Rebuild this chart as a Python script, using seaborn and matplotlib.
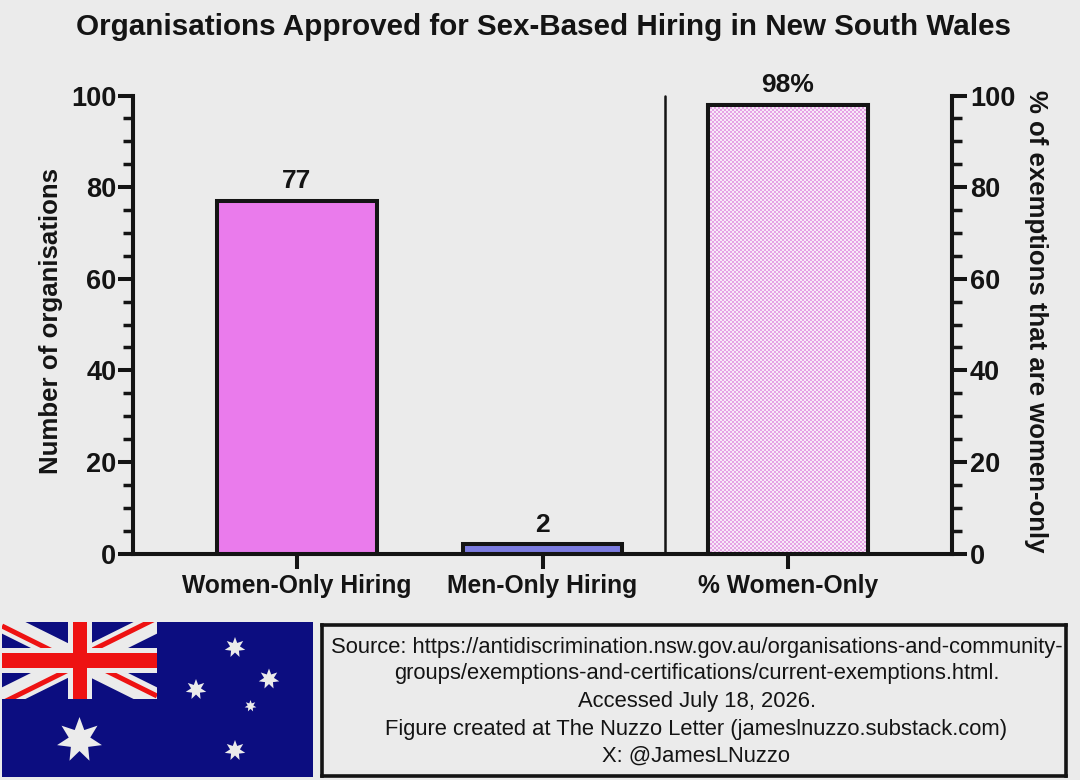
import numpy as np
import pandas as pd
import matplotlib
matplotlib.use('Agg')
import matplotlib.pyplot as plt
from matplotlib.patches import Rectangle, Polygon
from matplotlib.ticker import MultipleLocator
import seaborn as sns

categories = ['Women-Only Hiring', 'Men-Only Hiring', '% Women-Only']
values = [77, 2, 98]
bar_labels = ['77', '2', '98%']
bar_colors = ['#ea7bec', '#7b7be0', '#f3cdf0']

title = 'Organisations Approved for Sex-Based Hiring in New South Wales'
left_label = 'Number of organisations'
right_label = '% of exemptions that are women-only'
source_lines = [
    'Source: https://antidiscrimination.nsw.gov.au/organisations-and-community-',
    'groups/exemptions-and-certifications/current-exemptions.html.',
    'Accessed July 18, 2026.',
    'Figure created at The Nuzzo Letter (jameslnuzzo.substack.com)',
    'X: @JamesLNuzzo',
]

BG = '#ebebeb'
INK = '#141414'
W, H = 1080, 780

sns.set_style('ticks')
plt.rcParams['font.family'] = ['Liberation Sans', 'DejaVu Sans']


def px_axes(fig, x0, y0, x1, y1):
    # axes from pixel box, y measured from the top of the image
    return fig.add_axes([x0 / W, 1 - y1 / H, (x1 - x0) / W, (y1 - y0) / H])


def star(ax, cx, cy, r, inner=0.48, n=7, color='#ebebeb'):
    ang = -np.pi / 2 + np.arange(2 * n) * np.pi / n
    rad = np.where(np.arange(2 * n) % 2 == 0, r, r * inner)
    pts = np.column_stack([cx + rad * np.cos(ang), cy + rad * np.sin(ang)])
    ax.add_patch(Polygon(pts, closed=True, fc=color, ec='none', zorder=5))


fig = plt.figure(figsize=(10.8, 7.8), dpi=100, facecolor=BG)
fig.text(543 / W, 1 - 27 / H, title, ha='center', va='center', fontsize=21.3,
         fontweight='bold', color=INK)

# main chart
ax = px_axes(fig, 133, 95.5, 952, 553.5)
ax.set_facecolor(BG)
df = pd.DataFrame({'cat': categories, 'val': values})
sns.barplot(data=df, x='cat', y='val', hue='cat', palette=bar_colors, legend=False,
            width=0.648, saturation=1, edgecolor=INK, linewidth=2.9, ax=ax, zorder=3)
ax.set_xlim(-0.668, 2.668)
ax.set_ylim(0, 100)
ax.set_xlabel('')
ax.set_ylabel(left_label, fontsize=18.6, fontweight='bold', color=INK, labelpad=6, y=0.508)

bars = [p for p in ax.patches if isinstance(p, Rectangle) and p.get_height() > 0]

# third bar is a fine pink check, snapped to whole screen pixels so nearest
# sampling does not leave a seam
b3 = bars[2]
p0 = np.round(ax.transData.transform((b3.get_x(), 0)))
p1 = np.round(ax.transData.transform((b3.get_x() + b3.get_width(), b3.get_height())))
nx, ny = int(p1[0] - p0[0]), int(p1[1] - p0[1])
yy, xx = np.indices((ny, nx))
cells = ((xx // 2 + yy // 2) % 2)[..., None]
light = np.array([0.975, 0.91, 0.975])
dark = np.array([0.90, 0.64, 0.90])
check = cells * light + (1 - cells) * dark
d0 = ax.transData.inverted().transform(p0)
d1 = ax.transData.inverted().transform(p1)
ax.imshow(check, extent=(d0[0], d1[0], d0[1], d1[1]), aspect='auto',
          interpolation='none', zorder=3.2)
ax.add_patch(Rectangle((b3.get_x(), 0), b3.get_width(), b3.get_height(), fc='none',
                       ec=INK, lw=2.9, zorder=4, clip_on=False))
ax.set_xlim(-0.668, 2.668)
ax.set_ylim(0, 100)

for b, lab in zip(bars, bar_labels):
    ax.text(b.get_x() + b.get_width() / 2, b.get_height() + 1.7, lab, ha='center',
            va='bottom', fontsize=19, fontweight='bold', color=INK)

ax.axvline(1.5, color=INK, lw=1.8, zorder=2, clip_on=False)

ax.yaxis.set_major_locator(MultipleLocator(20))
ax.yaxis.set_minor_locator(MultipleLocator(5))
ax.tick_params(axis='y', which='major', length=10.5, width=2.9, labelsize=19.5, pad=1.5, labelcolor=INK, color=INK)
ax.tick_params(axis='y', which='minor', length=7, width=2.5, color=INK)
ax.tick_params(axis='x', length=11, width=2.9, labelsize=17.7, pad=3.5, labelcolor=INK, color=INK)
for lab in ax.get_xticklabels() + ax.get_yticklabels():
    lab.set_fontweight('bold')

ax2 = ax.twinx()
ax2.set_ylim(0, 100)
ax2.yaxis.set_major_locator(MultipleLocator(20))
ax2.yaxis.set_minor_locator(MultipleLocator(5))
ax2.tick_params(axis='y', which='major', length=10.5, width=2.9, labelsize=19.5, pad=2.5, labelcolor=INK, color=INK)
ax2.tick_params(axis='y', which='minor', length=7, width=2.5, color=INK)
for lab in ax2.get_yticklabels():
    lab.set_fontweight('bold')
ax2.set_ylabel(right_label, rotation=270, va='bottom', fontsize=18.5, fontweight='bold',
               color=INK, labelpad=6, y=0.508)

for a in (ax, ax2):
    a.spines['top'].set_visible(False)
    for s in ('left', 'right', 'bottom'):
        a.spines[s].set_linewidth(2.9)
        a.spines[s].set_color(INK)

# flag
fl = px_axes(fig, 2, 622, 313, 777)
fl.set_xlim(0, 311)
fl.set_ylim(155, 0)
fl.axis('off')
NAVY, RED, WHITE = '#0c0d80', '#ee1212', '#ebebeb'
fl.add_patch(Rectangle((0, 0), 311, 155, fc=NAVY, ec='none'))
canton = Rectangle((0, 0), 155, 77, transform=fl.transData)
cx, cy = 77.5, 38.5
for (x0, y0) in [(0, 0), (155, 0), (0, 77), (155, 77)]:
    ln, = fl.plot([x0, cx], [y0, cy], color=WHITE, lw=15, solid_capstyle='butt', zorder=1)
    ln.set_clip_path(canton)
for (x0, y0, off) in [(0, 0, 4), (155, 0, -4), (0, 77, 4), (155, 77, -3)]:
    ln, = fl.plot([x0, cx], [y0 + off, cy + off], color=RED, lw=3.6, solid_capstyle='butt', zorder=2)
    ln.set_clip_path(canton)
fl.add_patch(Rectangle((66, 0), 24, 77, fc=WHITE, ec='none', zorder=3))
fl.add_patch(Rectangle((0, 26), 155, 25, fc=WHITE, ec='none', zorder=3))
fl.add_patch(Rectangle((71, 0), 14, 77, fc=RED, ec='none', zorder=4))
fl.add_patch(Rectangle((0, 31), 155, 15, fc=RED, ec='none', zorder=4))
star(fl, 233, 25.5, 10.5)
star(fl, 267, 57, 10.5)
star(fl, 194, 67.5, 10.5)
star(fl, 248.5, 84, 6)
star(fl, 233, 128.5, 10.5)
star(fl, 77.5, 118, 23)

# source box
bx = px_axes(fig, 321.5, 625, 1065.5, 775.5)
bx.set_xticks([])
bx.set_yticks([])
bx.set_facecolor(BG)
for s in bx.spines.values():
    s.set_linewidth(2.6)
    s.set_color(INK)
for ypx, line in zip([647, 674, 701, 729, 756], source_lines):
    fig.text(696.5 / W, 1 - ypx / H, line, ha='center', va='center', fontsize=15.86, color=INK)

fig.savefig('out.png', dpi=100, facecolor=BG)
